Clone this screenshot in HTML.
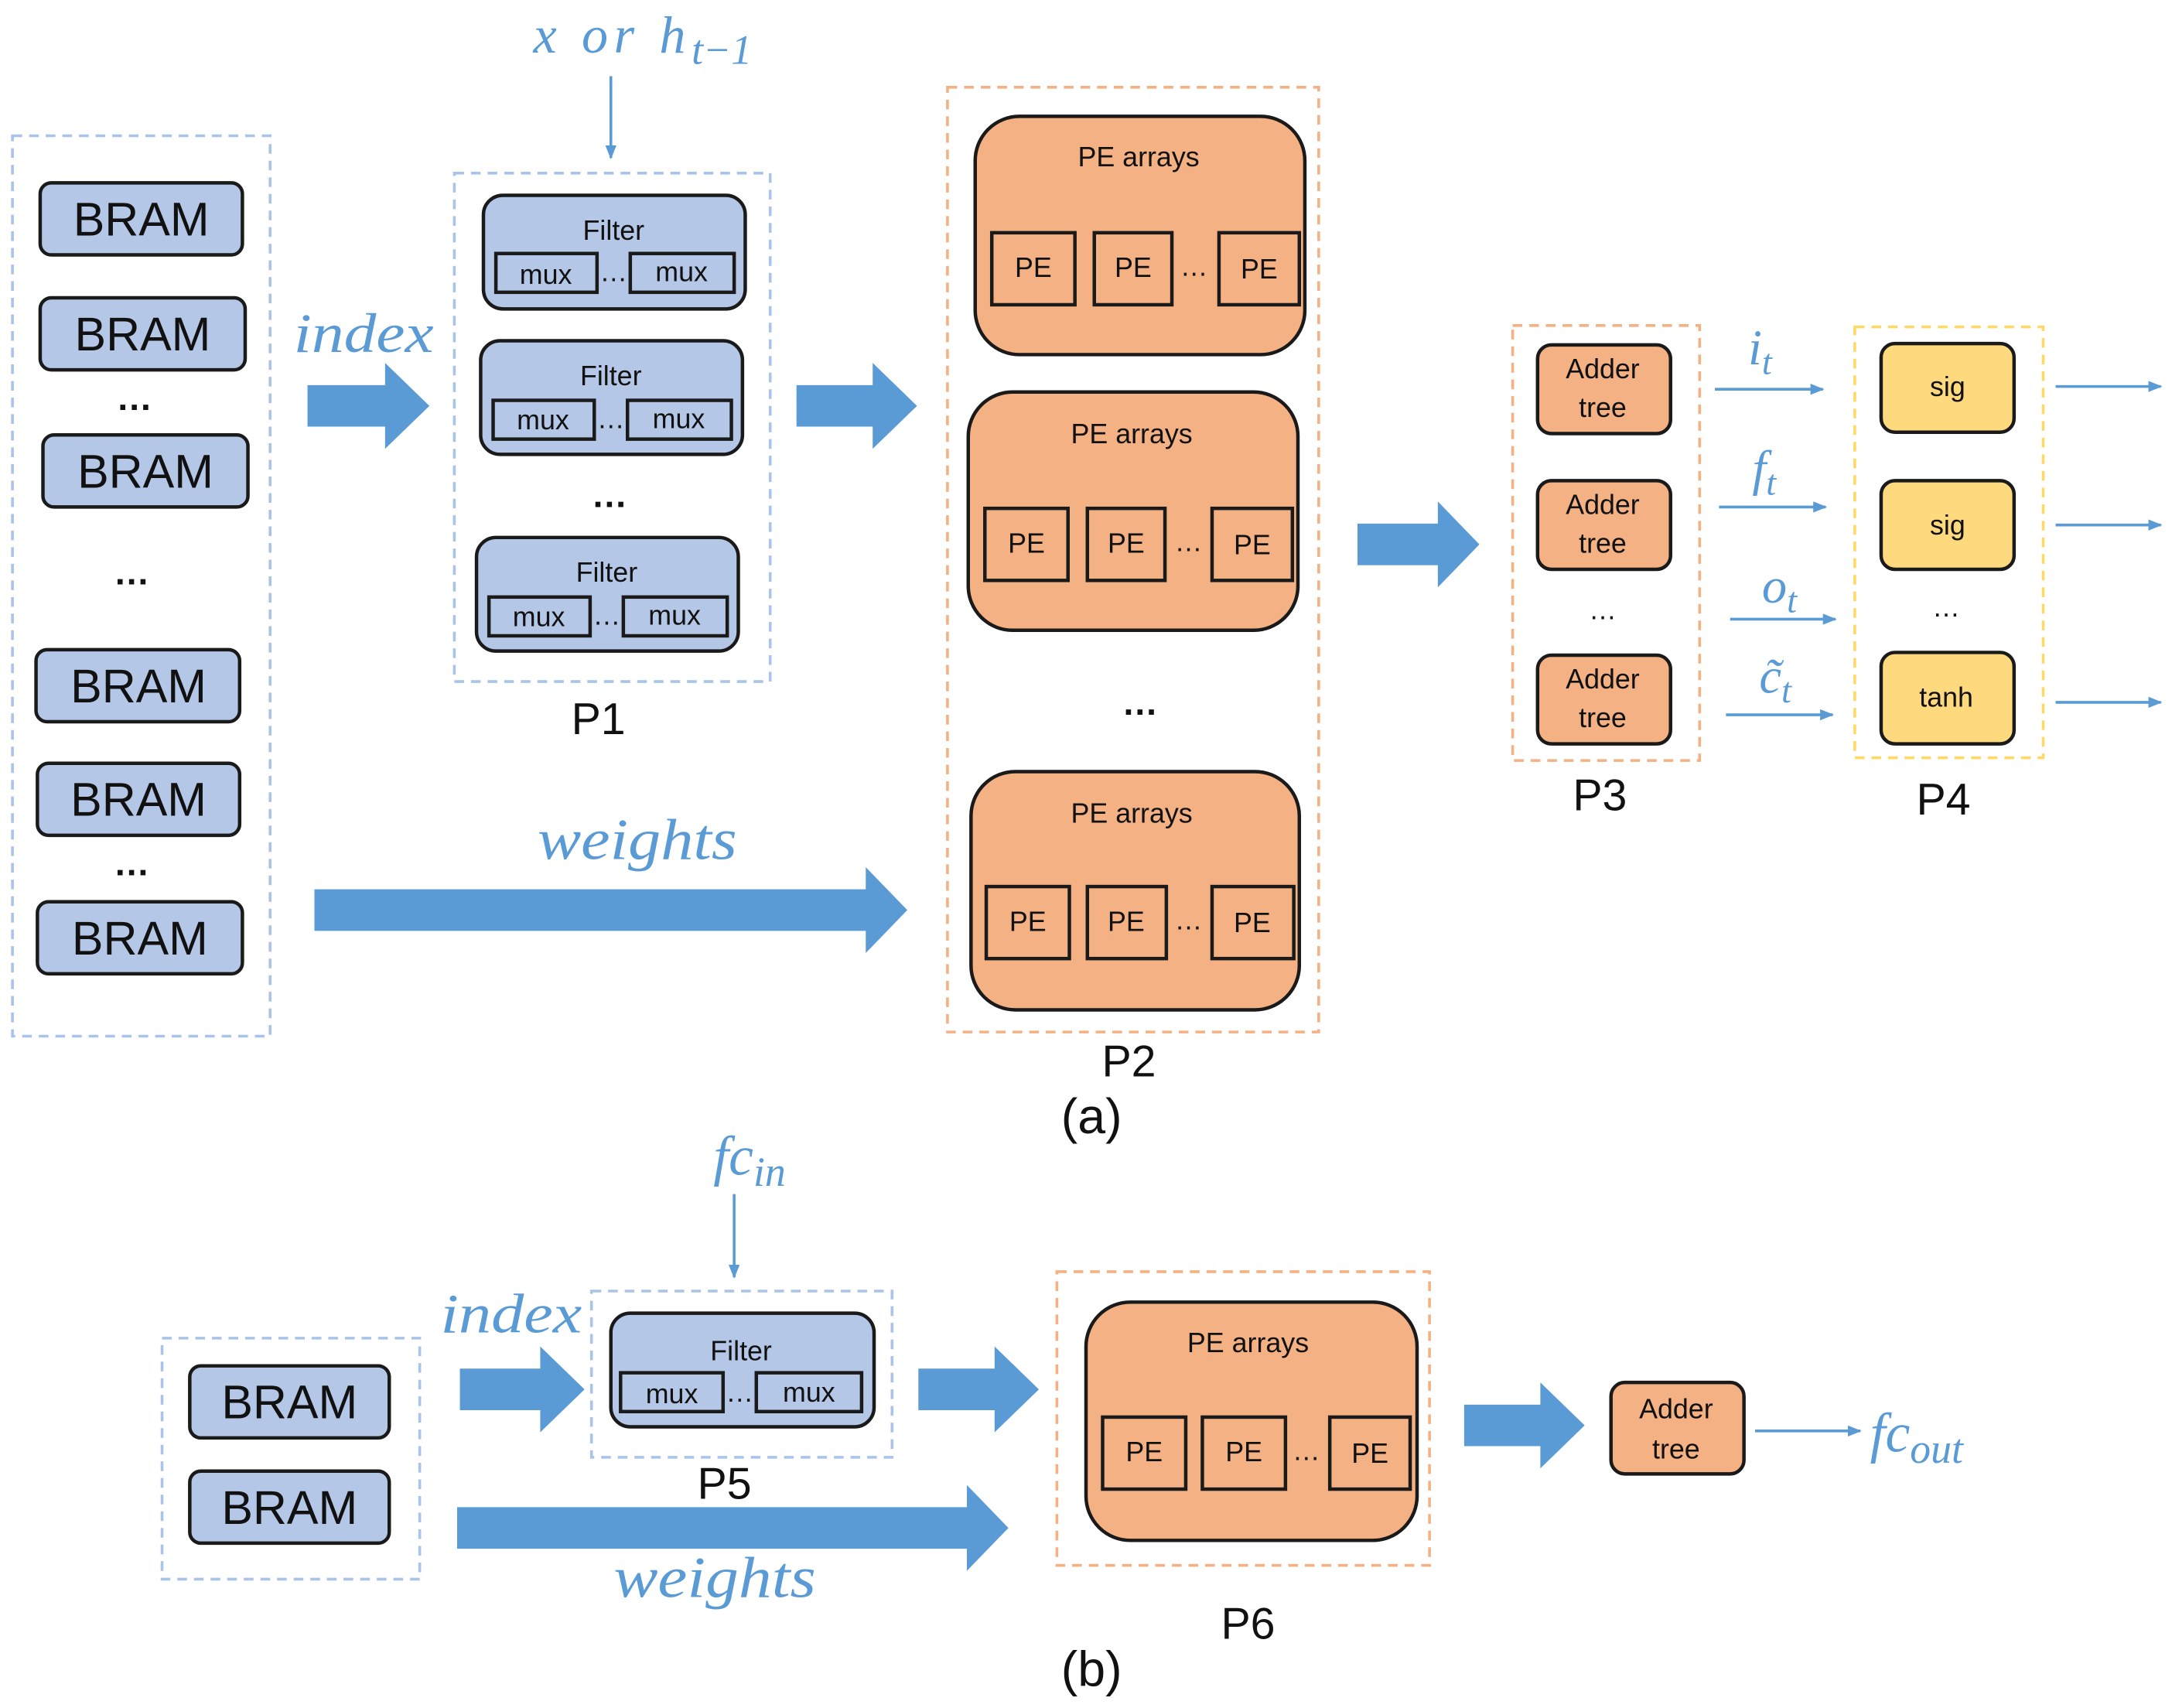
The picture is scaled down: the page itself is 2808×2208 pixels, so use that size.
<!DOCTYPE html>
<html><head><meta charset="utf-8"><style>
html,body{margin:0;padding:0;background:#fff;}
svg{display:block;}
.b{font-family:"Liberation Sans",sans-serif;}
.i{font-family:"Liberation Serif",serif;font-style:italic;fill:#5b9bd5;}
</style></head><body>
<svg width="2808" height="2208" viewBox="0 0 1568 1233" preserveAspectRatio="none" xmlns="http://www.w3.org/2000/svg">
<defs>
<marker id="ah" markerWidth="10" markerHeight="8" refX="9" refY="4" orient="auto" markerUnits="userSpaceOnUse"><path d="M0,0 L10,4 L0,8 z" fill="#5b9bd5"/></marker>
</defs>
<rect width="1568" height="1233" fill="#fff"/>
<g fill="none" stroke-dasharray="7,5" stroke-width="2">
<rect x="9" y="98" width="186" height="650" stroke="#a9c4e8"/>
<rect x="328" y="125" width="228" height="367" stroke="#a9c4e8"/>
<rect x="684" y="63" width="268" height="682" stroke="#f4b183"/>
<rect x="1092" y="235" width="135" height="314" stroke="#f4b183"/>
<rect x="1339" y="236" width="136" height="311" stroke="#ffd966"/>
<rect x="117" y="966" width="186" height="174" stroke="#a9c4e8"/>
<rect x="427" y="932" width="217" height="120" stroke="#a9c4e8"/>
<rect x="763" y="918" width="269" height="212" stroke="#f4b183"/>
</g>
<g class="b" font-size="34" text-anchor="middle" fill="#111">
<g fill="#b4c7e7" stroke="#1a1a1a" stroke-width="2.5">
<rect x="29" y="132" width="146" height="52" rx="8"/>
<rect x="29" y="215" width="148" height="52" rx="8"/>
<rect x="31" y="314" width="148" height="52" rx="8"/>
<rect x="26" y="469" width="147" height="52" rx="8"/>
<rect x="27" y="551" width="146" height="52" rx="8"/>
<rect x="27" y="651" width="148" height="52" rx="8"/>
<rect x="137" y="986" width="144" height="52" rx="8"/>
<rect x="137" y="1062" width="144" height="52" rx="8"/>
</g>
<text x="102" y="170">BRAM</text><text x="103" y="253">BRAM</text><text x="105" y="352">BRAM</text>
<text x="100" y="507">BRAM</text><text x="100" y="589">BRAM</text><text x="101" y="689">BRAM</text>
<text x="209" y="1024">BRAM</text><text x="209" y="1100">BRAM</text>
<text x="97" y="296" font-size="26" font-weight="bold">…</text><text x="95" y="422" font-size="26" font-weight="bold">…</text><text x="95" y="632" font-size="26" font-weight="bold">…</text>
</g>
<g class="b" text-anchor="middle" fill="#111">
<g fill="#b4c7e7" stroke="#1a1a1a" stroke-width="2.5">
<rect x="349" y="141" width="189" height="82" rx="14"/>
<rect x="347" y="246" width="189" height="82" rx="14"/>
<rect x="344" y="388" width="189" height="82" rx="14"/>
<rect x="441" y="948" width="190" height="82" rx="14"/>
</g>
<g fill="none" stroke="#1a1a1a" stroke-width="2.5">
<rect x="358" y="183" width="73" height="28"/><rect x="455" y="183" width="75" height="28"/>
<rect x="356" y="289" width="73" height="28"/><rect x="453" y="289" width="75" height="28"/>
<rect x="353" y="431" width="73" height="28"/><rect x="450" y="431" width="75" height="28"/>
<rect x="448" y="991" width="74" height="28"/><rect x="546" y="991" width="76" height="28"/>
</g>
<g font-size="20">
<text x="443" y="173">Filter</text><text x="441" y="278">Filter</text><text x="438" y="420">Filter</text><text x="535" y="982">Filter</text>
<text x="394" y="205">mux</text><text x="492" y="203">mux</text><text x="443" y="203">…</text>
<text x="392" y="310">mux</text><text x="490" y="309">mux</text><text x="441" y="309">…</text>
<text x="389" y="452">mux</text><text x="487" y="451">mux</text><text x="438" y="451">…</text>
<text x="485" y="1013">mux</text><text x="584" y="1012">mux</text><text x="534" y="1012">…</text>
</g>
<text x="440" y="366" font-size="26" font-weight="bold">…</text>
</g>
<g class="b" text-anchor="middle" fill="#111">
<g fill="#f4b183" stroke="#1a1a1a" stroke-width="2.5">
<rect x="704" y="84" width="238" height="172" rx="32"/>
<rect x="699" y="283" width="238" height="172" rx="32"/>
<rect x="701" y="557" width="237" height="172" rx="32"/>
<rect x="784" y="940" width="239" height="172" rx="32"/>
</g>
<g fill="none" stroke="#1a1a1a" stroke-width="2.5">
<rect x="716" y="168" width="60" height="52"/><rect x="790" y="168" width="56" height="52"/><rect x="880" y="168" width="58" height="52"/>
<rect x="711" y="367" width="60" height="52"/><rect x="785" y="367" width="56" height="52"/><rect x="875" y="367" width="58" height="52"/>
<rect x="712" y="640" width="60" height="52"/><rect x="785" y="640" width="57" height="52"/><rect x="875" y="640" width="59" height="52"/>
<rect x="796" y="1023" width="60" height="52"/><rect x="868" y="1023" width="60" height="52"/><rect x="960" y="1023" width="58" height="52"/>
</g>
<g font-size="20">
<text x="822" y="120">PE arrays</text><text x="817" y="320">PE arrays</text><text x="817" y="594">PE arrays</text><text x="901" y="976">PE arrays</text>
<text x="746" y="200">PE</text><text x="818" y="200">PE</text><text x="909" y="201">PE</text><text x="862" y="199">…</text>
<text x="741" y="399">PE</text><text x="813" y="399">PE</text><text x="904" y="400">PE</text><text x="858" y="398">…</text>
<text x="742" y="672">PE</text><text x="813" y="672">PE</text><text x="904" y="673">PE</text><text x="858" y="671">…</text>
<text x="826" y="1055">PE</text><text x="898" y="1055">PE</text><text x="989" y="1056">PE</text><text x="943" y="1054">…</text>
</g>
<text x="823" y="516" font-size="26" font-weight="bold">…</text>
</g>
<g class="b" text-anchor="middle" fill="#111" font-size="20">
<g stroke="#1a1a1a" stroke-width="2.5">
<rect x="1110" y="249" width="96" height="64" rx="10" fill="#f4b183"/>
<rect x="1110" y="347" width="96" height="64" rx="10" fill="#f4b183"/>
<rect x="1110" y="473" width="96" height="64" rx="10" fill="#f4b183"/>
<rect x="1163" y="998" width="96" height="66" rx="10" fill="#f4b183"/>
<rect x="1358" y="248" width="96" height="64" rx="10" fill="#ffd97e"/>
<rect x="1358" y="347" width="96" height="64" rx="10" fill="#ffd97e"/>
<rect x="1358" y="471" width="96" height="66" rx="10" fill="#ffd97e"/>
</g>
<text x="1157" y="273">Adder</text><text x="1157" y="301">tree</text>
<text x="1157" y="371">Adder</text><text x="1157" y="399">tree</text>
<text x="1157" y="497">Adder</text><text x="1157" y="525">tree</text>
<text x="1210" y="1024">Adder</text><text x="1210" y="1053">tree</text>
<text x="1406" y="286">sig</text><text x="1406" y="386">sig</text><text x="1405" y="510">tanh</text>
<text x="1157" y="447">…</text><text x="1405" y="445">…</text>
</g>
<g class="b" text-anchor="middle" fill="#111" font-size="32">
<text x="432" y="530">P1</text><text x="815" y="777">P2</text><text x="1155" y="585">P3</text><text x="1403" y="588">P4</text>
<text x="523" y="1082">P5</text><text x="901" y="1183">P6</text>
<text x="788" y="818" font-size="36">(a)</text><text x="788" y="1217" font-size="36">(b)</text>
</g>
<g fill="#5b9bd5">
<path d="M222,278 H278 V262 L310,293 L278,324 V308 H222 z"/>
<path d="M575,278 H630 V262 L662,293 L630,324 V308 H575 z"/>
<path d="M227,642 H625 V626 L655,657 L625,688 V672 H227 z"/>
<path d="M980,378 H1038 V362 L1068,393 L1038,424 V408 H980 z"/>
<path d="M332,988 H390 V972 L422,1003 L390,1034 V1018 H332 z"/>
<path d="M663,988 H718 V972 L750,1003 L718,1034 V1018 H663 z"/>
<path d="M330,1088 H698 V1072 L728,1103 L698,1134 V1118 H330 z"/>
<path d="M1057,1014 H1112 V998 L1144,1029 L1112,1060 V1044 H1057 z"/>
</g>
<g stroke="#5b9bd5" stroke-width="2" marker-end="url(#ah)">
<line x1="441" y1="55" x2="441" y2="114"/>
<line x1="530" y1="862" x2="530" y2="922"/>
<line x1="1238" y1="281" x2="1316" y2="281"/>
<line x1="1241" y1="366" x2="1318" y2="366"/>
<line x1="1249" y1="447" x2="1325" y2="447"/>
<line x1="1246" y1="516" x2="1323" y2="516"/>
<line x1="1484" y1="279" x2="1560" y2="279"/>
<line x1="1484" y1="379" x2="1560" y2="379"/>
<line x1="1484" y1="507" x2="1560" y2="507"/>
<line x1="1267" y1="1033" x2="1343" y2="1033"/>
</g>
<g class="i">
<text x="385" y="38" font-size="38"><tspan textLength="110" lengthAdjust="spacing">x or h</tspan><tspan font-size="30" dy="8">t−1</tspan></text>
<text x="212" y="254" font-size="40" textLength="101" lengthAdjust="spacingAndGlyphs">index</text>
<text x="388" y="620" font-size="42" textLength="144" lengthAdjust="spacingAndGlyphs">weights</text>
<text x="318" y="962" font-size="40" textLength="102" lengthAdjust="spacingAndGlyphs">index</text>
<text x="443" y="1153" font-size="42" textLength="146" lengthAdjust="spacingAndGlyphs">weights</text>
<text x="515" y="848" font-size="40">fc<tspan font-size="30" dy="8">in</tspan></text>
<text x="1350" y="1048" font-size="40">fc<tspan font-size="30" dy="8">out</tspan></text>
<text x="1262" y="263" font-size="36">i<tspan font-size="26" dy="7">t</tspan></text>
<text x="1265" y="350" font-size="36">f<tspan font-size="26" dy="7">t</tspan></text>
<text x="1272" y="435" font-size="36">o<tspan font-size="26" dy="7">t</tspan></text>
<text x="1270" y="500" font-size="36">c̃<tspan font-size="26" dy="7">t</tspan></text>
</g>
</svg>
</body></html>
